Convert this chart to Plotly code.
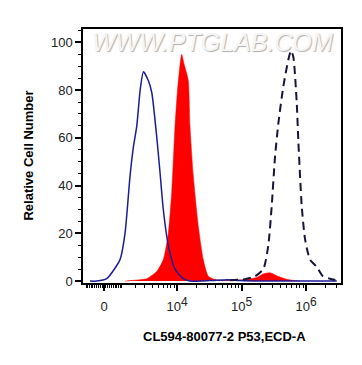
import numpy as np
import plotly.graph_objects as go

# ---- data (fluorescence intensity, relative cell number) ----
ctrl_x = [-768, -388, 143, 890, 1215, 1579, 1845, 2151, 2481, 2839, 3439, 3925, 4730,
          5351, 6042, 7258, 9258, 12498, 15867, 32520, 61770, 94760, 193400, 3000000]
ctrl_y = [0, 0, 1, 9, 20, 44, 56, 65, 80, 87.7, 84, 79, 60.6,
          45.6, 30, 15, 5, 1, 0, 0.2, 0.6, 0.2, 0, 0]

p53_x = [1215, 1819, 3223, 4730, 6042, 7258, 8211, 9258, 10059, 11372, 11790, 12807,
         13752, 14937, 15867, 17860, 21372, 25560, 30570, 41250, 94760, 172100,
         215500, 276700, 368100, 472600, 628800, 807200]
p53_y = [0, 0.3, 1, 4, 9, 20, 37, 65, 79, 93, 95, 91,
         88, 84, 65, 44, 23, 9, 2, 0.5, 0.5, 1.5,
         3, 3.5, 2, 1, 0.3, 0]

pos_x = [66330, 113400, 161900, 217800, 260500, 294000, 330900, 372300, 444800, 531700,
         585400, 635600, 717500, 759700, 857800, 965200, 1154000, 1465000, 1835000,
         2356000, 3024000]
pos_y = [0.3, 0.8, 2, 5, 15, 31.5, 52, 66, 81.5, 92.7,
         96.5, 94, 75, 59, 31.5, 17.7, 9, 6, 2,
         1, 0.3]

major_ticks = [0, 1e4, 1e5, 1e6]
major_labels = ["0",
                "10<sup><span style='font-size:12px'>4</span></sup>",
                "10<sup><span style='font-size:12px'>5</span></sup>",
                "10<sup><span style='font-size:12px'>6</span></sup>"]
minor_ticks = ([-v for v in range(100, 1100, 100)] + list(range(100, 1000, 100)) +
               list(range(1000, 10000, 1000)) + list(range(20000, 100000, 10000)) +
               list(range(200000, 1000000, 100000)) + [2e6, 3e6])

# biexponential-like display transform
C = 738.0
def tf(v):
    v = np.asarray(v, dtype=float)
    return np.log10(C) + np.arcsinh(v / (2 * C)) / np.log(10)

fig = go.Figure()
fig.add_trace(go.Scatter(x=tf(p53_x), y=p53_y, mode="lines", fill="tozeroy",
                         line=dict(color="#ff0000", width=0.5, shape="spline", smoothing=0.6),
                         fillcolor="#ff0000", showlegend=False, hoverinfo="skip"))
fig.add_trace(go.Scatter(x=tf(ctrl_x), y=ctrl_y, mode="lines",
                         line=dict(color="#1c1c96", width=1.5, shape="spline", smoothing=0.6),
                         showlegend=False, hoverinfo="skip"))
fig.add_trace(go.Scatter(x=tf(pos_x), y=pos_y, mode="lines",
                         line=dict(color="#15153a", width=2, dash="8px,5px", shape="spline", smoothing=0.6),
                         showlegend=False, hoverinfo="skip"))

fig.add_annotation(text="<i>WWW.PTGLAB.COM</i>", xref="paper", yref="paper", x=0.5, y=0.95,
                   xanchor="center", yanchor="middle", showarrow=False,
                   font=dict(family="Liberation Sans, Arial", size=25,
                             color="#f5f5f5", shadow="1px 1px 1px #b0b0b0"))

# axis titles placed manually
fig.add_annotation(text="<b>CL594-80077-2 P53,ECD-A</b>", xref="paper", yref="paper",
                   x=0.55, y=-0.21, xanchor="center", yanchor="middle", showarrow=False,
                   font=dict(family="Liberation Sans, Arial", size=13, color="black"))
fig.add_annotation(text="<b>Relative Cell Number</b>", xref="paper", yref="paper",
                   x=-0.215, y=0.5, xanchor="center", yanchor="middle", showarrow=False,
                   textangle=-90,
                   font=dict(family="Liberation Sans, Arial", size=13, color="black"))

axis_font = dict(family="Liberation Sans, Arial", size=13, color="#222")
fig.update_layout(
    width=354, height=357,
    margin=dict(l=75, r=21, t=21, b=82, autoexpand=False),
    paper_bgcolor="white", plot_bgcolor="white",
    xaxis=dict(range=[2.5426, 6.5426], showgrid=False, zeroline=False, automargin=False,
               showline=True, linecolor="black", linewidth=1.5, mirror=True,
               ticks="outside", ticklen=6, tickwidth=1.5, tickcolor="black",
               tickmode="array", tickvals=list(tf(major_ticks)), ticktext=major_labels,
               tickfont=axis_font, ticklabelstandoff=5,
               minor=dict(tickmode="array", tickvals=list(tf(minor_ticks)),
                          ticks="outside", ticklen=3, tickwidth=1, tickcolor="black")),
    yaxis=dict(range=[-0.8, 105.6], showgrid=False, zeroline=False, automargin=False,
               showline=True, linecolor="black", linewidth=1.5, mirror=True,
               ticks="outside", ticklen=6, tickwidth=1.5, tickcolor="black",
               tickmode="array", tickvals=[0, 20, 40, 60, 80, 100],
               tickfont=axis_font,
               minor=dict(tickmode="array", tickvals=[5, 10, 15, 25, 30, 35, 45, 50, 55, 65, 70, 75, 85, 90, 95, 105],
                          ticks="outside", ticklen=3, tickwidth=1, tickcolor="black")),
)

fig.write_html("out.html")
